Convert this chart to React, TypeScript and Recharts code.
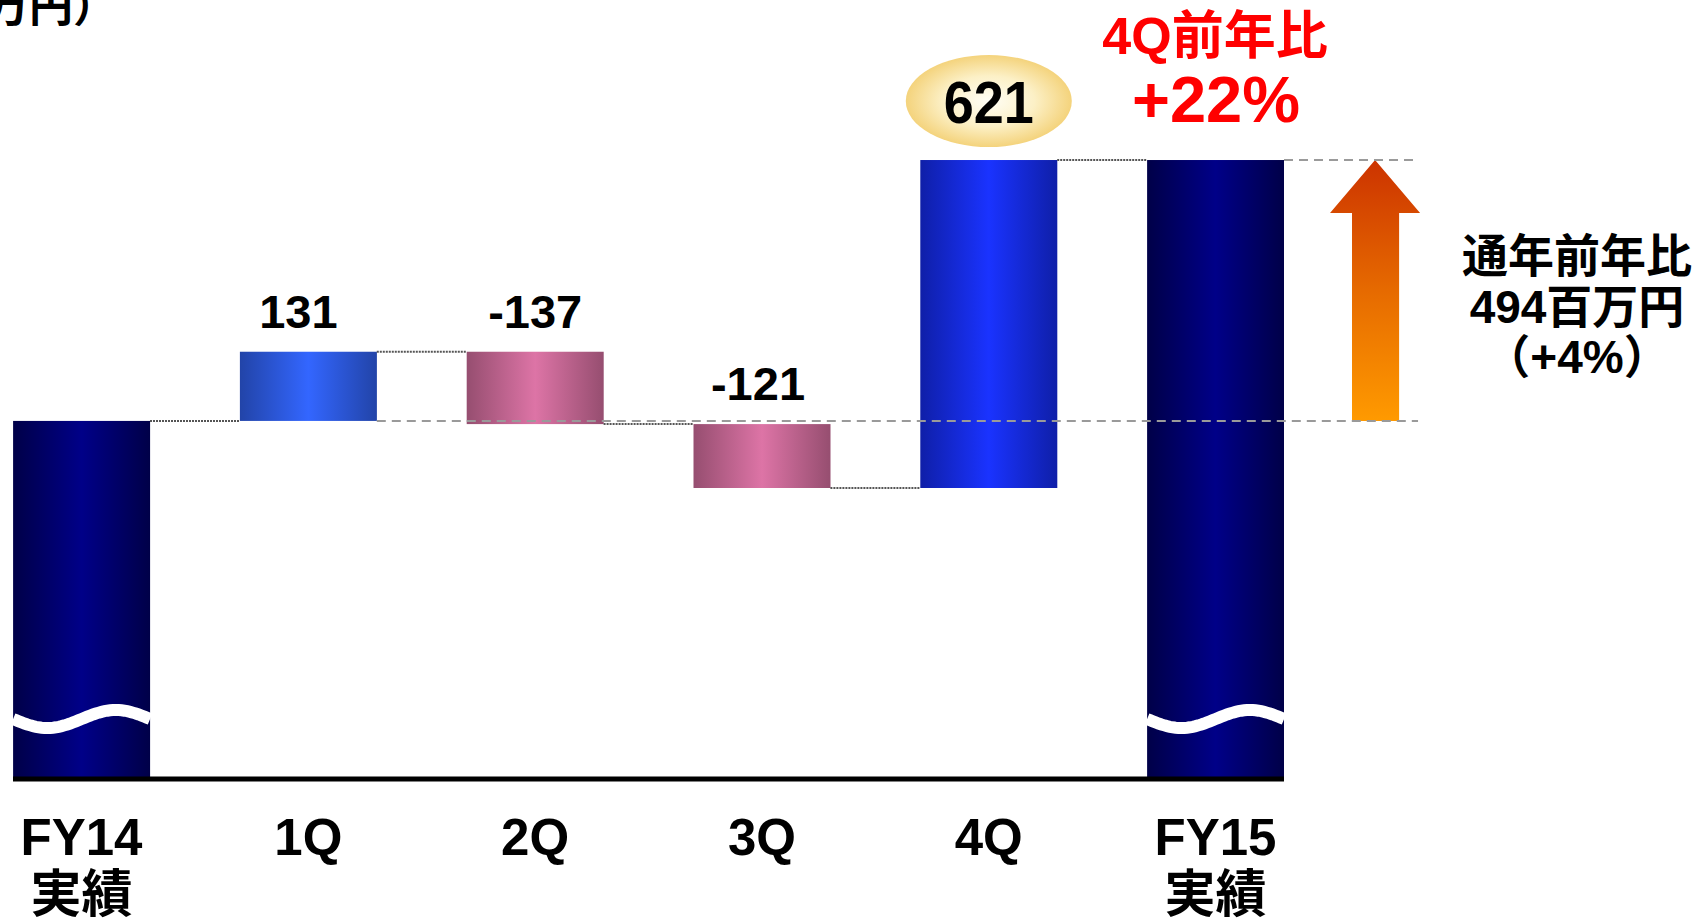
import React from 'react';
import { BarChart, Bar, XAxis, YAxis, LabelList, ReferenceLine, ReferenceArea } from 'recharts';

// ---- data ----
const categories = ['FY14', '1Q', '2Q', '3Q', '4Q', 'FY15'];
const subLabels = ['実績', '', '', '', '', '実績'];
const fy14Result = 12350; // estimated: 494 = +4%
const quarterChanges = [131, -137, -121, 621];
const fy15Result = 12844;
const valueLabels = ['', '131', '-137', '-121', '621', ''];
const unitLabel = '（百万円）';
const q4Title = ['4Q前年比', '+22%'];
const yearNote = ['通年前年比', '494百万円', '（+4%）'];

// broken-axis floor / ceiling of the value scale
const axisFloor = 11672;
const axisCeil = 13147;

const FONT = "'Liberation Sans', Arial, 'Noto Sans CJK JP', sans-serif";
const BAR_HALF = 0.302;
const ARROW_X = [5.505, 5.902];
const GUIDE_END = 5.893;

type Row = { x: number; range: [number, number]; kind: string; end: number; label: string };

const rows: Row[] = [];
rows.push({ x: 0, range: [axisFloor, fy14Result], kind: 'total', end: fy14Result, label: valueLabels[0] });
let level = fy14Result;
quarterChanges.forEach((d, i) => {
  const start = level;
  const end = level + d;
  rows.push({
    x: i + 1,
    range: [Math.min(start, end), Math.max(start, end)],
    kind: d < 0 ? 'down' : i === quarterChanges.length - 1 ? 'highlight' : 'up',
    end,
    label: valueLabels[i + 1],
  });
  level = end;
});
rows.push({ x: 5, range: [axisFloor, fy15Result], kind: 'total', end: fy15Result, label: valueLabels[5] });

const FILLS: Record<string, string> = {
  total: 'url(#gTotal)',
  up: 'url(#gUp)',
  down: 'url(#gDown)',
  highlight: 'url(#gHi)',
};

const BarShape = (props: any) => {
  const { x, y, width, height, payload } = props;
  const fill = FILLS[payload.kind];
  let wave: React.ReactNode = null;
  if (payload.kind === 'total') {
    const cy = y + height - 60;
    let d = '';
    for (let k = 0; k <= 48; k++) {
      const t = k / 48;
      d += (k ? 'L' : 'M') + (x + t * width).toFixed(2) + ' ' + (cy + 9 * Math.sin(2 * Math.PI * t)).toFixed(2);
    }
    wave = <path d={d} stroke="#fff" strokeWidth={12} fill="none" />;
  }
  return (
    <g>
      <rect x={x} y={y} width={width} height={height} fill={fill} />
      {wave}
    </g>
  );
};

const LABEL_DX: Record<number, number> = { 1: -10, 3: -4 };

const renderLabel = (props: any) => {
  const vb = props.viewBox || {};
  const x = props.x ?? vb.x;
  const y = props.y ?? vb.y;
  const width = props.width ?? vb.width;
  const { value, index } = props;
  if (!value) return null;
  const cx = x + width / 2;
  if (rows[index] && rows[index].kind === 'highlight') {
    const cy = y - 59;
    return (
      <g>
        <ellipse cx={cx} cy={cy} rx={83} ry={46} fill="url(#gOval)" />
        <text x={cx} y={cy + 22} textAnchor="middle" fontFamily={FONT} fontWeight="bold" fontSize={60}
          textLength={90} lengthAdjust="spacingAndGlyphs" fill="#000">{value}</text>
      </g>
    );
  }
  return (
    <text x={cx + (LABEL_DX[index] || 0)} y={y - 24} textAnchor="middle" fontFamily={FONT} fontWeight="bold"
      fontSize={47} fill="#000">{value}</text>
  );
};

const Tick = (props: any) => {
  const { x, y, payload } = props;
  const i = payload.value;
  return (
    <g>
      <text x={x} y={y + 76} textAnchor="middle" fontFamily={FONT} fontWeight="bold" fontSize={51} fill="#000">
        {categories[i]}
      </text>
      {subLabels[i] ? (
        <text x={x} y={y + 133} textAnchor="middle" fontFamily={FONT} fontWeight="bold" fontSize={51} fill="#000">
          {subLabels[i]}
        </text>
      ) : null}
    </g>
  );
};

const ArrowShape = (props: any) => {
  const { x, y, width, height } = props;
  const head = 53;
  const s0 = x + width * 0.244;
  const s1 = x + width * 0.767;
  const pts = [
    [x + width / 2, y],
    [x + width, y + head],
    [s1, y + head],
    [s1, y + height],
    [s0, y + height],
    [s0, y + head],
    [x, y + head],
  ].map((p) => p.join(',')).join(' ');
  return <polygon points={pts} fill="url(#gArrow)" />;
};

export default function App() {
  return (
    <div style={{ position: 'absolute', left: 0, top: 0, width: 1702, height: 920, background: '#fff' }}>
      <svg width={0} height={0} style={{ position: 'absolute' }}>
        <defs>
          <linearGradient id="gTotal" x1="0" y1="0" x2="1" y2="0">
            <stop offset="0%" stopColor="#000048" />
            <stop offset="50%" stopColor="#000088" />
            <stop offset="100%" stopColor="#000048" />
          </linearGradient>
          <linearGradient id="gUp" x1="0" y1="0" x2="1" y2="0">
            <stop offset="0%" stopColor="#2244A8" />
            <stop offset="50%" stopColor="#3366FF" />
            <stop offset="100%" stopColor="#2244A8" />
          </linearGradient>
          <linearGradient id="gDown" x1="0" y1="0" x2="1" y2="0">
            <stop offset="0%" stopColor="#964E70" />
            <stop offset="50%" stopColor="#DD74A6" />
            <stop offset="100%" stopColor="#964E70" />
          </linearGradient>
          <linearGradient id="gHi" x1="0" y1="0" x2="1" y2="0">
            <stop offset="0%" stopColor="#0F1FA8" />
            <stop offset="50%" stopColor="#1A33FF" />
            <stop offset="100%" stopColor="#0F1FA8" />
          </linearGradient>
          <radialGradient id="gOval" cx="50%" cy="50%" r="50%">
            <stop offset="0%" stopColor="#FFFEF6" />
            <stop offset="55%" stopColor="#FCF0C6" />
            <stop offset="100%" stopColor="#F4D37C" />
          </radialGradient>
          <linearGradient id="gArrow" x1="0" y1="0" x2="0" y2="1">
            <stop offset="0%" stopColor="#CC3300" />
            <stop offset="50%" stopColor="#E66A00" />
            <stop offset="100%" stopColor="#FF9A00" />
          </linearGradient>
        </defs>
      </svg>
      <BarChart width={1702} height={920} data={rows} margin={{ top: 0, right: 418, bottom: 0, left: 13 }} barSize={137}>
        <XAxis
          type="number"
          dataKey="x"
          domain={[-BAR_HALF, categories.length - 1 + BAR_HALF]}
          ticks={categories.map((_, i) => i)}
          interval={0}
          allowDataOverflow
          tick={<Tick />}
          tickLine={false}
          tickSize={0}
          tickMargin={0}
          height={141}
          axisLine={{ stroke: '#000', strokeWidth: 5 }}
        />
        <YAxis hide domain={[axisFloor, axisCeil]} allowDataOverflow />
        <ReferenceLine
          segment={[{ x: 1 + BAR_HALF, y: fy14Result }, { x: GUIDE_END, y: fy14Result }]}
          stroke="#9A9A9A" strokeWidth={2} strokeDasharray="9 6" ifOverflow="visible"
        />
        <ReferenceLine
          segment={[{ x: 5 + BAR_HALF, y: fy15Result }, { x: GUIDE_END, y: fy15Result }]}
          stroke="#9A9A9A" strokeWidth={2} strokeDasharray="9 6" ifOverflow="visible"
        />
        {rows.slice(0, rows.length - 1).map((r, i) => (
          <ReferenceLine
            key={'c' + i}
            segment={[{ x: i + BAR_HALF, y: r.end }, { x: i + 1 - BAR_HALF, y: r.end }]}
            stroke="#555" strokeWidth={2} strokeDasharray="2 1" ifOverflow="visible"
          />
        ))}
        <ReferenceArea
          x1={ARROW_X[0]} x2={ARROW_X[1]} y1={fy14Result} y2={fy15Result}
          ifOverflow="visible" shape={<ArrowShape />}
        />
        <Bar dataKey="range" shape={<BarShape />} isAnimationActive={false}>
          <LabelList dataKey="label" content={renderLabel} />
        </Bar>
      </BarChart>
      <svg width={1702} height={920} style={{ position: 'absolute', left: 0, top: 0, pointerEvents: 'none' }}>
        <text x={117} y={22} textAnchor="end" fontFamily={FONT} fontWeight="bold" fontSize={44} fill="#000">{unitLabel}</text>
        <text x={1215} y={54} textAnchor="middle" fontFamily={FONT} fontWeight="bold" fontSize={52} fill="#FF0000">{q4Title[0]}</text>
        <text x={1216} y={122} textAnchor="middle" fontFamily={FONT} fontWeight="bold" fontSize={65} fill="#FF0000">{q4Title[1]}</text>
        <text x={1577} y={272} textAnchor="middle" fontFamily={FONT} fontWeight="bold" fontSize={46} fill="#000">{yearNote[0]}</text>
        <text x={1577} y={323} textAnchor="middle" fontFamily={FONT} fontWeight="bold" fontSize={46} fill="#000">{yearNote[1]}</text>
        <text x={1577} y={373} textAnchor="middle" fontFamily={FONT} fontWeight="bold" fontSize={46} fill="#000">{yearNote[2]}</text>
      </svg>
    </div>
  );
}
